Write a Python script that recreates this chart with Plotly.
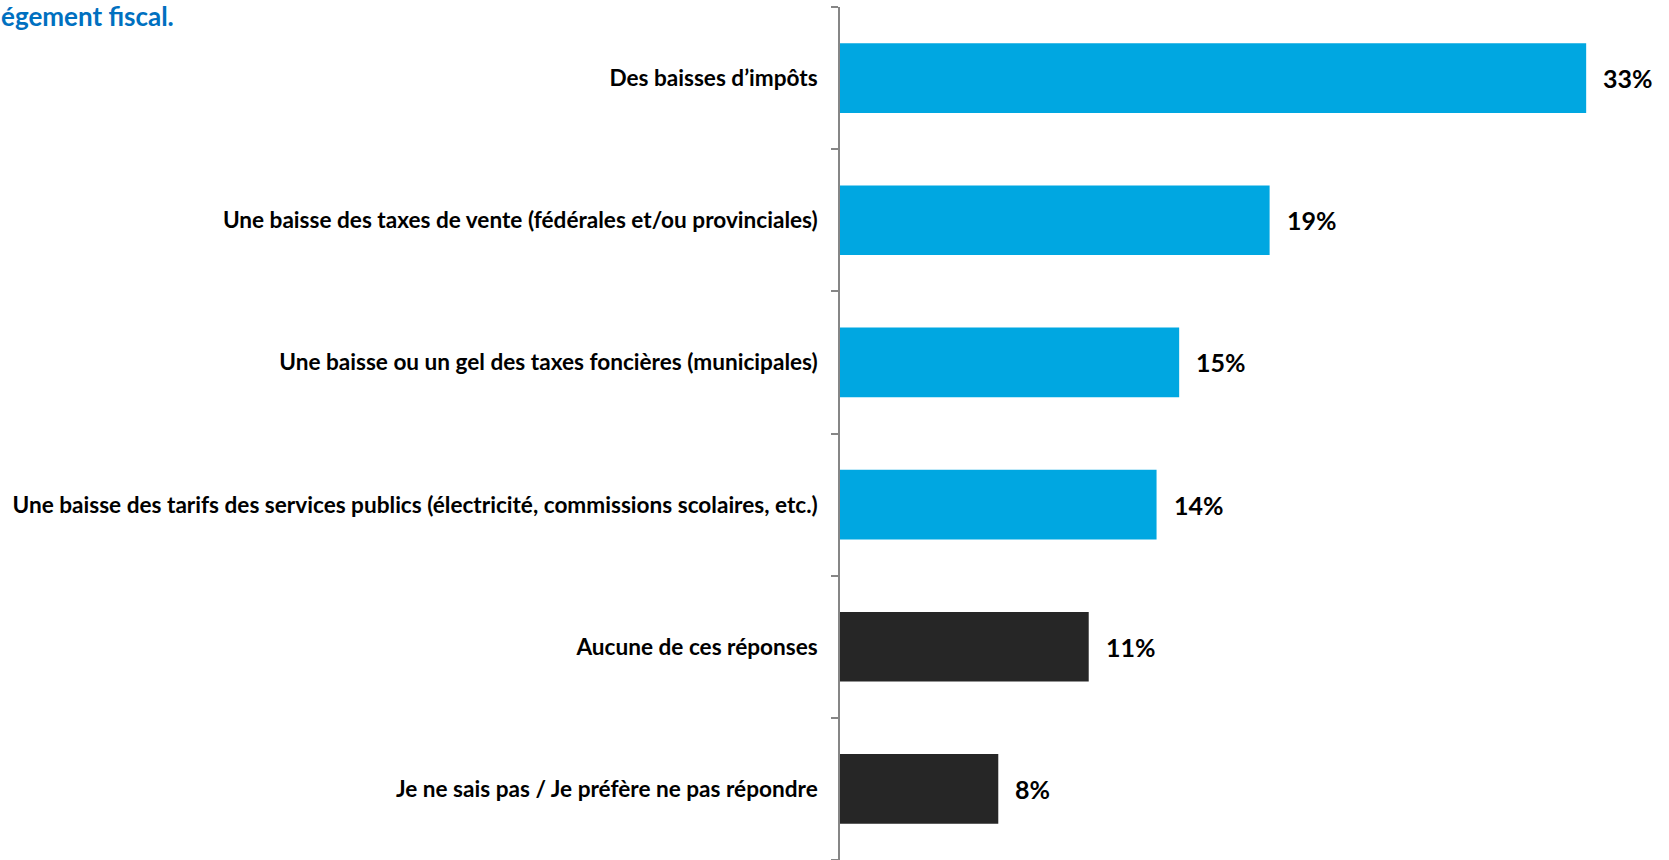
import plotly.graph_objects as go

categories = [
    "Des baisses d’impôts",
    "Une baisse des taxes de vente (fédérales et/ou provinciales)",
    "Une baisse ou un gel des taxes foncières (municipales)",
    "Une baisse des tarifs des services publics (électricité, commissions scolaires, etc.)",
    "Aucune de ces réponses",
    "Je ne sais pas / Je préfère ne pas répondre",
]
values = [33.0, 19.0, 15.0, 14.0, 11.0, 7.0]
value_labels = ["33%", "19%", "15%", "14%", "11%", "8%"]
bar_colors = ["#00A7E1", "#00A7E1", "#00A7E1", "#00A7E1", "#262626", "#262626"]

FONT = "Lato, 'Open Sans', sans-serif"

fig = go.Figure(
    go.Bar(
        x=values,
        y=categories,
        orientation="h",
        marker=dict(color=bar_colors, line_width=0),
        hoverinfo="skip",
    )
)

for cat, val, lab in zip(categories, values, value_labels):
    fig.add_annotation(
        x=val,
        y=cat,
        text=f"<b>{lab}</b>",
        showarrow=False,
        xanchor="left",
        xshift=15,
        font=dict(family=FONT, size=25, color="#000000"),
    )

# title is cut off at the left edge in the original
fig.add_annotation(
    x=0,
    y=1,
    xref="paper",
    yref="paper",
    text="<b>égement fiscal.</b>",
    showarrow=False,
    xanchor="left",
    yanchor="top",
    xshift=-841,
    yshift=9,
    font=dict(family=FONT, size=26, color="#0070C0"),
)

fig.update_layout(
    width=1669,
    height=860,
    margin=dict(l=840, r=15, t=7, b=0),
    plot_bgcolor="white",
    paper_bgcolor="white",
    bargap=0.51,
    showlegend=False,
    font=dict(family=FONT, color="#000000"),
)
fig.update_xaxes(
    range=[0, 36],
    visible=False,
    showgrid=False,
    zeroline=False,
)
fig.update_yaxes(
    categoryorder="array",
    categoryarray=categories[::-1],
    showline=True,
    linecolor="#868686",
    linewidth=1.5,
    ticks="outside",
    tickson="boundaries",
    ticklen=7,
    tickwidth=1.5,
    tickcolor="#868686",
    ticklabelstandoff=16,
    showgrid=False,
    tickfont=dict(family=FONT, size=22.6, color="#000000", weight="bold"),
)

fig.write_html(
    "out.html",
    config={"displayModeBar": False},
    post_script="document.body.style.margin='0';",
)
